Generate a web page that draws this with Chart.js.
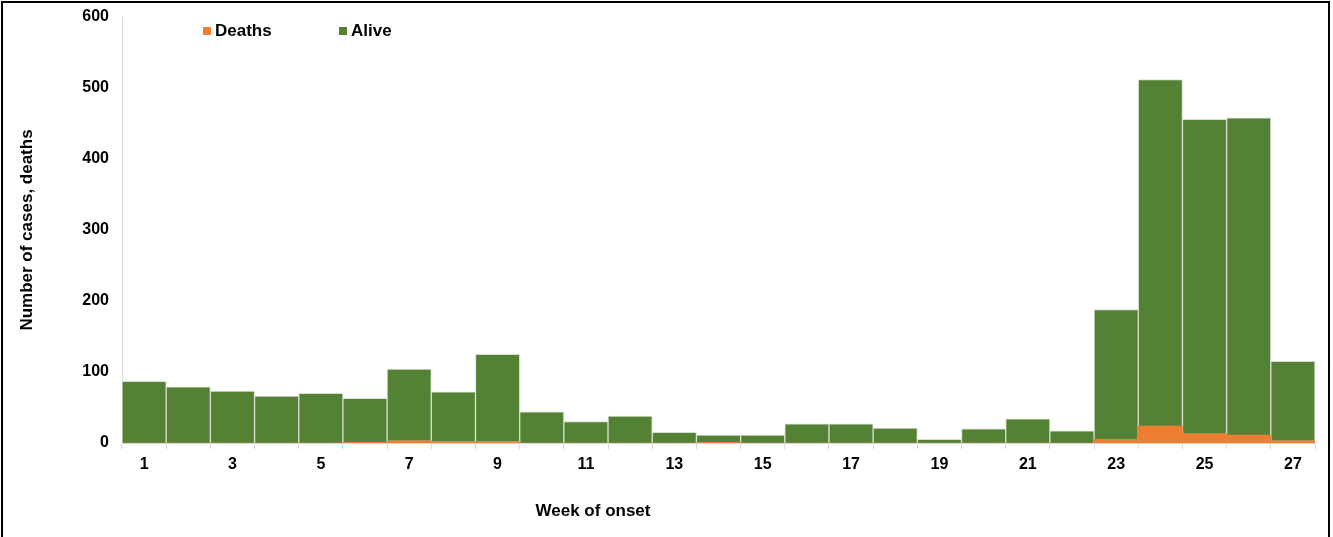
<!DOCTYPE html>
<html>
<head>
<meta charset="utf-8">
<script src="https://cdn.jsdelivr.net/npm/chart.js@4/dist/chart.umd.min.js"></script>
<style>
  html, body { margin: 0; padding: 0; background: #fff; }
  #wrap { position: relative; width: 1333px; height: 537px; }
  #cadre { position: absolute; left: 1px; top: 1px; width: 1329px; height: 540px; border: 2px solid #000; box-sizing: border-box; pointer-events: none; }
</style>
</head>
<body>
<div id="wrap">
  <canvas id="cas-chart" width="1333" height="537"></canvas>
  <div id="cadre"></div>
</div>
<script>
// Semaines d'apparition (1 a 27)
const semaines = ["1","2","3","4","5","6","7","8","9","10","11","12","13","14","15","16","17","18","19","20","21","22","23","24","25","26","27"];
// Deces par semaine
const deces = [0,0,0,0,0,1,3,2,2,0,0,0,0,1,0,0,0,0,0,0,0,0,5,24,13,11,3];
// Cas vivants par semaine
const vivants = [87,79,73,66,70,62,101,70,123,44,30,38,15,10,11,27,27,21,5,20,34,17,183,488,443,447,112];
// Graduations de l'axe Y
const graduationsY = [0,100,200,300,400,500,600];

const couleurDeces = "#ED7D31";
const couleurVivants = "#548235";
const police = "'Liberation Sans', Arial, sans-serif";

// Legende et titre de l'axe X dessines a la main
const decorPlugin = {
    id: "decor",
    afterDraw(chart) {
        const ctx = chart.ctx;
        ctx.save();
        ctx.font = "bold 17px " + police;
        ctx.textBaseline = "middle";
        const items = [
            { x: 203, label: chart.data.datasets[0].label, color: chart.data.datasets[0].backgroundColor },
            { x: 339, label: chart.data.datasets[1].label, color: chart.data.datasets[1].backgroundColor }
        ];
        items.forEach(it => {
            ctx.fillStyle = it.color;
            ctx.fillRect(it.x, 27, 8, 8);
            ctx.fillStyle = "#000";
            ctx.fillText(it.label, it.x + 12, 31);
        });
        ctx.textAlign = "center";
        ctx.fillText("Week of onset", 593, 511);
        ctx.restore();
    }
};

const ctx = document.getElementById("cas-chart").getContext("2d");
new Chart(ctx, {
    type: "bar",
    data: {
        labels: semaines,
        datasets: [{
            label: "Deaths",
            data: deces,
            backgroundColor: couleurDeces,
            borderWidth: 0,
            barPercentage: 1,
            categoryPercentage: 1
        }, {
            label: "Alive",
            data: vivants,
            backgroundColor: couleurVivants,
            borderColor: "#d9dfd3",
            borderWidth: { left: 1, right: 1, top: 1, bottom: 0 },
            borderSkipped: false,
            barPercentage: 1,
            categoryPercentage: 1
        }]
    },
    options: {
        responsive: false,
        animation: false,
        layout: { padding: { top: 17, right: 18, left: 0, bottom: 0 } },
        plugins: {
            legend: { display: false },
            tooltip: { enabled: false }
        },
        scales: {
            x: {
                stacked: true,
                grid: { offset: true, drawOnChartArea: false, drawTicks: true, tickLength: 6, color: "#d9d9d9" },
                border: { color: "#d9d9d9" },
                ticks: {
                    autoSkip: false,
                    maxRotation: 0,
                    padding: 6,
                    color: "#000",
                    font: { family: police, size: 16, weight: "bold" },
                    callback: function (val, i) {
                        return i % 2 === 0 ? semaines[i] : "";
                    }
                },
                afterFit: s => { s.height = 94; s.paddingLeft = 0; s.paddingRight = 0; }
            },
            y: {
                stacked: true,
                min: 0,
                max: 600,
                afterBuildTicks: s => { s.ticks = graduationsY.map(v => ({ value: v })); },
                grid: { display: false },
                border: { color: "#d9d9d9" },
                ticks: {
                    padding: 5,
                    color: "#000",
                    font: { family: police, size: 16, weight: "bold" }
                },
                title: {
                    display: true,
                    text: "Number of cases, deaths",
                    color: "#000",
                    font: { family: police, size: 17, weight: "bold" },
                    padding: { top: 17, bottom: 0 }
                },
                afterFit: s => { s.width = 122; s.paddingTop = 0; s.paddingBottom = 0; }
            }
        }
    },
    plugins: [decorPlugin]
});
</script>
</body>
</html>
